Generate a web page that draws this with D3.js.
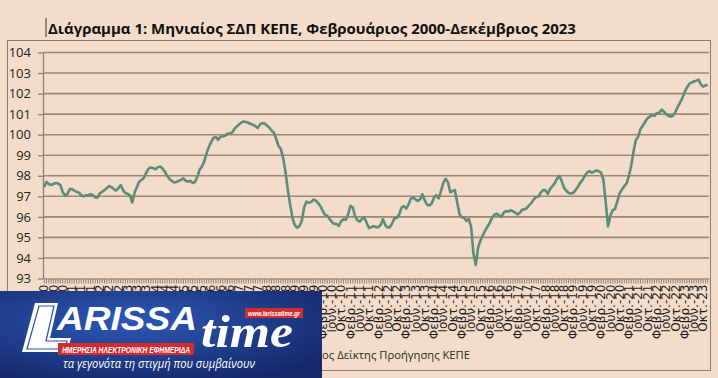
<!doctype html>
<html>
<head>
<meta charset="utf-8">
<style>
body { margin: 0; background: #f3dcca; }
svg { display: block; }
.title { font: bold 16px "Open Sans", sans-serif; fill: #111; }
.yaxis text { font: 13px "Open Sans", sans-serif; fill: #222; }
.xaxis text { font: 12px "DejaVu Sans", sans-serif; fill: #1e1e1e; }
.legend { font: 13px "Open Sans", sans-serif; fill: #2a2a2a; }
</style>
</head>
<body>
<svg width="718" height="378"></svg>
<script src="https://d3js.org/d3.v7.min.js"></script>
<script>
// monthly index, Feb 2000 .. Dec 2023
var monthNames = ["Ιαν.", "Φεβρ.", "Μαρ.", "Απρ.", "Μαΐου", "Ιουν.", "Ιουλ.", "Αυγ.", "Σεπ.", "Οκτ.", "Νοε.", "Δεκ."];
var startYear = 2000, startMonth = 1;
var yTicks = [93, 94, 95, 96, 97, 98, 99, 100, 101, 102, 103, 104];
var seriesName = "Μηνιαίος Δείκτης Προήγησης ΚΕΠΕ";
var titleText = "Διάγραμμα 1: Μηνιαίος ΣΔΠ ΚΕΠΕ, Φεβρουάριος 2000-Δεκέμβριος 2023";

var values = [
  97.45, 97.7, 97.6, 97.55, 97.6, 97.65, 97.62, 97.55, 97.2, 97.05, 97.1,
  97.35, 97.35, 97.28, 97.22, 97.18, 97.05, 97.0, 97.05, 97.05, 97.1, 97.05, 96.95,
  96.95, 97.15, 97.22, 97.3, 97.4, 97.5, 97.45, 97.35, 97.28, 97.4, 97.55, 97.3,
  97.15, 97.12, 97.05, 96.7, 97.2, 97.45, 97.72, 97.8, 97.9, 98.15, 98.35, 98.4,
  98.37, 98.32, 98.42, 98.45, 98.35, 98.2, 98.0, 97.85, 97.75, 97.68, 97.7, 97.75,
  97.8, 97.88, 97.75, 97.72, 97.75, 97.65, 97.7, 97.95, 98.3, 98.45, 98.7, 99.1,
  99.4, 99.65, 99.85, 99.88, 99.75, 99.9, 99.92, 99.95, 100.05, 100.05, 100.1, 100.28,
  100.4, 100.5, 100.6, 100.64, 100.62, 100.58, 100.52, 100.48, 100.42, 100.32, 100.5, 100.56,
  100.55, 100.45, 100.35, 100.2, 100.1, 99.8, 99.45, 99.3, 98.85, 98.2, 97.3, 96.6,
  95.95, 95.6, 95.47, 95.55, 95.8, 96.45, 96.74, 96.68, 96.72, 96.84, 96.8, 96.68,
  96.53, 96.3, 96.1, 96.05, 95.9, 95.75, 95.65, 95.66, 95.56, 95.8, 95.88, 95.86,
  96.13, 96.54, 96.45, 96.02, 95.83, 95.77, 95.9, 95.97, 95.7, 95.45, 95.5, 95.55,
  95.5, 95.5, 95.6, 95.89, 95.6, 95.48, 95.5, 95.7, 95.93, 95.96, 96.12, 96.45,
  96.52, 96.4, 96.6, 96.88, 96.95, 96.85, 96.78, 96.85, 97.1, 96.8, 96.6, 96.55,
  96.65, 96.95, 97.05, 96.9, 97.25, 97.65, 97.85, 97.7, 97.2, 97.25, 97.3, 96.7,
  96.13, 95.98, 95.95, 95.8, 95.9, 95.5, 94.2, 93.66, 94.5, 94.85, 95.1, 95.32,
  95.52, 95.7, 95.95, 96.1, 96.15, 96.08, 96.0, 96.2, 96.28, 96.26, 96.32, 96.28,
  96.2, 96.12, 96.2, 96.36, 96.36, 96.43, 96.57, 96.68, 96.85, 96.97, 96.99, 97.18,
  97.3, 97.3, 97.12, 97.35, 97.5, 97.63, 97.85, 98.0, 97.75, 97.42, 97.27, 97.16,
  97.14, 97.17, 97.3, 97.46, 97.66, 97.8, 98.0, 98.16, 98.23, 98.15, 98.2, 98.26,
  98.22, 98.15, 97.8, 96.7, 95.54, 96.05, 96.33, 96.38, 96.75, 97.15, 97.33, 97.5,
  97.63, 98.0, 98.5, 99.2, 99.74, 99.9, 100.28, 100.45, 100.63, 100.8, 100.88, 100.95,
  100.92, 101.05, 101.05, 101.22, 101.13, 101.0, 100.92, 100.88, 100.92, 101.1, 101.35, 101.55,
  101.78, 102.07, 102.3, 102.47, 102.54, 102.59, 102.63, 102.68, 102.45, 102.34, 102.4, 102.42
];

var categories = values.map(function(v, i) {
  var k = startMonth + i;
  var yr = startYear + Math.floor(k / 12);
  return monthNames[k % 12] + "-" + String(yr % 100).padStart(2, "0");
});

var svg = d3.select("svg");

// outer chart frame
svg.append("rect")
  .attr("x", 7.5).attr("y", 40.5).attr("width", 703).attr("height", 330)
  .attr("fill", "none").attr("stroke", "#8c7b6c").attr("stroke-width", 1);

// title + the stray text cursor
svg.append("line").attr("x1", 46).attr("x2", 46).attr("y1", 18).attr("y2", 37)
  .attr("stroke", "#333").attr("stroke-width", 1);
var title = svg.append("text").attr("class", "title")
  .attr("x", 48).attr("y", 34).text(titleText);
var tw = title.node().getComputedTextLength();
title.style("font-size", (16 * 528 / tw) + "px");

var x = d3.scaleBand()
  .domain(d3.range(values.length))
  .range([43, 709]);

var y = d3.scaleLinear()
  .domain([93, 104])
  .range([278.5, 52.5]);

// gridlines
svg.append("g").selectAll("line")
  .data(yTicks.slice(1))
  .enter().append("line")
  .attr("x1", 43).attr("x2", 709)
  .attr("y1", function(d) { return y(d); })
  .attr("y2", function(d) { return y(d); })
  .attr("stroke", "#9c8676").attr("stroke-width", 1.6);

var yAxis = svg.append("g").attr("class", "yaxis")
  .attr("transform", "translate(43,0)")
  .call(d3.axisLeft(y).tickValues(yTicks).tickFormat(d3.format("d")).tickSize(5).tickPadding(7).tickSizeOuter(0));
yAxis.selectAll("line, path").attr("stroke", "#927e6e").attr("stroke-width", 1.3);

var xAxis = svg.append("g").attr("class", "xaxis")
  .attr("transform", "translate(0,278.5)")
  .call(d3.axisBottom(x).tickSize(5).tickSizeOuter(0)
    .tickFormat(function(i) { return i % 4 === 0 ? categories[i] : ""; }));
xAxis.selectAll("line, path").attr("stroke", "#927e6e").attr("stroke-width", 1);
xAxis.selectAll("text")
  .attr("transform", "rotate(-90)")
  .attr("text-anchor", "end")
  .attr("x", -6).attr("y", 0).attr("dy", "0.35em");

// series line
var line = d3.line()
  .x(function(d, i) { return x(i) + x.bandwidth() / 2; })
  .y(function(d) { return y(d); });

svg.append("path")
  .datum(values)
  .attr("d", line)
  .attr("fill", "none")
  .attr("stroke", "#5b8d7a")
  .attr("stroke-width", 2.6)
  .attr("stroke-linejoin", "round");

// legend: the visible tail "ος Δείκτης..." should run from x=322 to 470
var legend = svg.append("text").attr("class", "legend")
  .attr("x", 470).attr("y", 359).attr("text-anchor", "end").text(seriesName);
var tail = svg.append("text").attr("class", "legend").text(seriesName.slice(6));
var fs = 13 * 148 / tail.node().getComputedTextLength();
tail.remove();
legend.style("font-size", fs + "px");
var lw = legend.node().getComputedTextLength();
svg.append("line").attr("x1", 470 - lw - 40).attr("x2", 470 - lw - 6).attr("y1", 355).attr("y2", 355)
  .attr("stroke", "#5b8d7a").attr("stroke-width", 2.6);

// newspaper banner over the bottom-left corner
var defs = svg.append("defs");
var grad = defs.append("radialGradient").attr("id", "logoBg")
  .attr("cx", "40%").attr("cy", "35%").attr("r", "75%");
grad.append("stop").attr("offset", "0%").attr("stop-color", "#2d58b6");
grad.append("stop").attr("offset", "100%").attr("stop-color", "#15286a");

var logo = svg.append("g").attr("transform", "translate(0,291)");
logo.append("rect").attr("width", 322).attr("height", 87).attr("fill", "url(#logoBg)");
logo.append("path")
  .attr("d", "M35,12 L58,12 L50,47 L71,47 L67,61 L22,61 Z")
  .attr("fill", "#fff");
logo.append("path")
  .attr("d", "M39,15 L54,15 L46,50 L67,50 L65,58 L27,58 Z")
  .attr("fill", "none").attr("stroke", "#2a4fa6").attr("stroke-width", 1.2);
logo.append("text")
  .attr("x", 57).attr("y", 39)
  .attr("textLength", 140).attr("lengthAdjust", "spacingAndGlyphs")
  .style("font", "italic bold 33px 'Liberation Sans', sans-serif")
  .attr("fill", "#fff").text("ARISSA");
logo.append("text")
  .attr("x", 201).attr("y", 56)
  .attr("textLength", 92).attr("lengthAdjust", "spacingAndGlyphs")
  .style("font", "italic bold 46px 'Liberation Serif', serif")
  .attr("fill", "#fff").text("time");
logo.append("rect").attr("x", 245).attr("y", 17).attr("width", 58).attr("height", 10)
  .attr("fill", "#d32a2e");
logo.append("text")
  .attr("x", 274).attr("y", 25).attr("text-anchor", "middle")
  .attr("textLength", 52).attr("lengthAdjust", "spacingAndGlyphs")
  .style("font", "italic bold 7.5px 'Liberation Sans', sans-serif")
  .attr("fill", "#fff").text("www.larissatime.gr");
logo.append("rect").attr("x", 58).attr("y", 52).attr("width", 136).attr("height", 12)
  .attr("fill", "#d32a2e");
logo.append("text")
  .attr("x", 126).attr("y", 61.5).attr("text-anchor", "middle")
  .attr("textLength", 128).attr("lengthAdjust", "spacingAndGlyphs")
  .style("font", "italic bold 8.5px 'Liberation Sans', sans-serif")
  .attr("fill", "#fff").text("ΗΜΕΡΗΣΙΑ ΗΛΕΚΤΡΟΝΙΚΗ ΕΦΗΜΕΡΙΔΑ");
logo.append("text")
  .attr("x", 63).attr("y", 77)
  .attr("textLength", 192).attr("lengthAdjust", "spacingAndGlyphs")
  .style("font", "italic 12.5px 'Open Sans', sans-serif")
  .attr("fill", "#fff").text("τα γεγονότα τη στιγμή που συμβαίνουν");
</script>
</body>
</html>
